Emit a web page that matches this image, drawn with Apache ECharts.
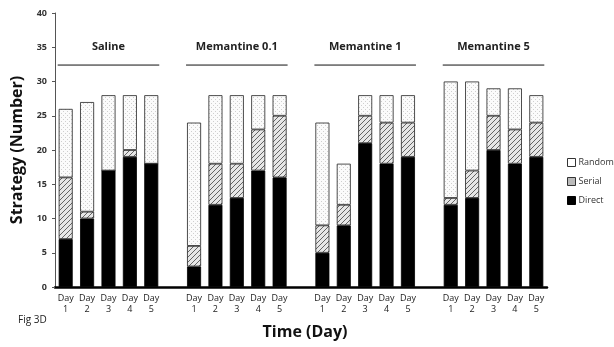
<!DOCTYPE html>
<html>
<head>
<meta charset="utf-8">
<script src="https://cdn.jsdelivr.net/npm/echarts@6/dist/echarts.min.js"></script>
<style>
  html, body { margin: 0; padding: 0; background: #fff; }
  #chart { width: 614px; height: 347px; }
</style>
</head>
<body>
<div id="chart"></div>
<script>
// groups of 5 days, one blank slot between groups
var groups = ['Saline', 'Memantine 0.1', 'Memantine 1', 'Memantine 5'];
var days = ['1', '2', '3', '4', '5'];

var direct = [7, 10, 17, 19, 18,  3, 12, 13, 17, 16,  5, 9, 21, 18, 19,  12, 13, 20, 18, 19];
var serial = [9, 1, 0, 1, 0,  3, 6, 5, 6, 9,  4, 3, 4, 6, 5,  1, 4, 5, 5, 5];
var random = [10, 16, 11, 8, 10,  18, 10, 10, 5, 3,  15, 6, 3, 4, 4,  17, 13, 4, 6, 4];

var yTicks = [0, 5, 10, 15, 20, 25, 30, 35, 40];

// build category list with spacers
var cats = [];
var d = [], s = [], r = [];
groups.forEach(function (g, gi) {
    if (gi > 0) {
        cats.push('');
        d.push('-'); s.push('-'); r.push('-');
    }
    days.forEach(function (day, di) {
        var k = gi * 5 + di;
        cats.push('Day\n' + day);
        d.push(direct[k]); s.push(serial[k]); r.push(random[k]);
    });
});

function hatch() {
    var c = document.createElement('canvas');
    c.width = 5; c.height = 5;
    var ctx = c.getContext('2d');
    ctx.fillStyle = '#e6e6e6';
    ctx.fillRect(0, 0, 5, 5);
    ctx.strokeStyle = '#555';
    ctx.lineWidth = 0.9;
    ctx.beginPath();
    ctx.moveTo(0, 5); ctx.lineTo(5, 0);
    ctx.moveTo(-2.5, 2.5); ctx.lineTo(2.5, -2.5);
    ctx.moveTo(2.5, 7.5); ctx.lineTo(7.5, 2.5);
    ctx.stroke();
    return c;
}
function dots() {
    var c = document.createElement('canvas');
    c.width = 4; c.height = 4;
    var ctx = c.getContext('2d');
    ctx.fillStyle = '#fbfbfb';
    ctx.fillRect(0, 0, 4, 4);
    ctx.fillStyle = '#cfcfcf';
    ctx.fillRect(1, 1, 1, 1);
    ctx.fillRect(3, 3, 1, 1);
    return c;
}

var font = 'Open Sans';
var myChart = echarts.init(document.getElementById('chart'));

var option = {
    animation: false,
    grid: { left: 55, right: 67, top: 13, bottom: 60 },
    legend: {
        orient: 'vertical',
        left: 562, top: 153,
        itemWidth: 8, itemHeight: 8, itemGap: 10,
        icon: 'rect',
        textStyle: { fontFamily: font, fontSize: 9, color: '#333', padding: [0, 0, 0, -2] },
        data: [
            { name: 'Random', itemStyle: { color: '#fff', borderColor: '#333', borderWidth: 1 } },
            { name: 'Serial', itemStyle: { color: '#bbb', borderColor: '#333', borderWidth: 1 } },
            { name: 'Direct', itemStyle: { color: '#000', borderColor: '#000', borderWidth: 1 } }
        ]
    },
    xAxis: {
        type: 'category',
        data: cats,
        name: 'Time (Day)',
        nameLocation: 'middle',
        nameGap: 37,
        nameTextStyle: { fontFamily: font, fontSize: 16, fontWeight: 'bold', color: '#111', padding: [0, 0, 0, 8] },
        axisLine: { lineStyle: { color: '#000', width: 2.5 } },
        axisTick: { show: false },
        axisLabel: { interval: 0, fontFamily: font, fontSize: 9, color: '#222', lineHeight: 11, margin: 6 }
    },
    yAxis: {
        type: 'value',
        min: yTicks[0], max: yTicks[yTicks.length - 1], interval: 5,
        name: 'Strategy (Number)',
        nameLocation: 'middle',
        nameGap: 30,
        nameTextStyle: { fontFamily: font, fontSize: 16, fontWeight: 'bold', color: '#111' },
        axisLine: { show: true, lineStyle: { color: '#555', width: 1 } },
        axisTick: { show: true, length: 3, lineStyle: { color: '#555' } },
        axisLabel: { fontFamily: font, fontSize: 9, fontWeight: 'bold', color: '#333', margin: 8 },
        splitLine: { show: false }
    },
    series: [
        {
            name: 'Direct', type: 'bar', stack: 'a', barWidth: 14, data: d,
            itemStyle: { color: '#000', borderColor: '#000', borderWidth: 0.8 }
        },
        {
            name: 'Serial', type: 'bar', stack: 'a', barWidth: 14, data: s,
            itemStyle: { color: { image: hatch(), repeat: 'repeat' }, borderColor: '#222', borderWidth: 0.8 }
        },
        {
            name: 'Random', type: 'bar', stack: 'a', barWidth: 14, data: r,
            itemStyle: { color: { image: dots(), repeat: 'repeat' }, borderColor: '#222', borderWidth: 0.8 }
        }
    ],
    graphic: [
        { type: 'text', left: 18, top: 315, style: { text: 'Fig 3D', font: '10px "Open Sans"', fill: '#222' } }
    ]
};

myChart.setOption(option);

// group titles with underline
var extra = [];
groups.forEach(function (g, gi) {
    var first = gi * 6, last = gi * 6 + 4;
    var p1 = myChart.convertToPixel({ gridIndex: 0 }, [first, 32.4]);
    var p2 = myChart.convertToPixel({ gridIndex: 0 }, [last, 32.4]);
    var pt = myChart.convertToPixel({ gridIndex: 0 }, [first, 35]);
    extra.push({
        type: 'line',
        shape: { x1: p1[0] - 8, y1: p1[1], x2: p2[0] + 8, y2: p2[1] },
        style: { stroke: '#111', lineWidth: 1 }
    });
    extra.push({
        type: 'text',
        x: (p1[0] + p2[0]) / 2, y: pt[1],
        style: {
            text: g, font: 'bold 11px "Open Sans"', fill: '#222',
            textAlign: 'center', textVerticalAlign: 'middle'
        }
    });
});
myChart.setOption({ graphic: option.graphic.concat(extra) });
</script>
</body>
</html>
